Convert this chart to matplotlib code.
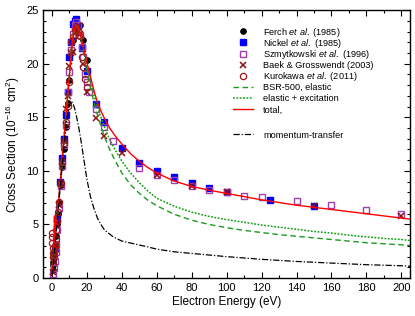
import matplotlib
matplotlib.use("Agg")
import matplotlib.pyplot as plt
from matplotlib.ticker import MultipleLocator

plt.rcParams['font.family'] = ['Liberation Sans', 'DejaVu Sans']
plt.rcParams['mathtext.fontset'] = 'custom'
plt.rcParams['mathtext.rm'] = 'Liberation Sans'
plt.rcParams['mathtext.it'] = 'Liberation Sans:italic'

# ---------------- data ----------------
ferch_E = [0.3, 0.5, 0.7, 0.9, 1.2, 1.5, 2.0, 2.5, 3.0, 3.5, 4.0, 5.0, 6.0, 7.0, 8.0, 9.0, 10.0, 12.0, 14.0, 16.0, 18.0, 20.0]
ferch_Q = [0.8, 1.2, 1.5, 1.9, 2.2, 2.6, 3.0, 3.9, 5.0, 6.0, 7.0, 8.7, 10.4, 12.0, 14.1, 16.3, 18.5, 22.2, 23.4, 23.6, 22.2, 20.3]

nickel_E = [1.5, 3, 4.5, 6, 7, 8, 9, 10, 11, 12, 13, 14, 15, 17, 20, 25, 30, 40, 50, 60, 70, 80, 90, 100, 125, 150]
nickel_Q = [2.8, 5.5, 9.0, 11.2, 13.0, 15.2, 17.4, 20.6, 22.0, 23.7, 24.0, 24.2, 23.5, 21.5, 19.3, 16.2, 14.6, 12.1, 10.7, 10.0, 9.4, 8.9, 8.45, 8.05, 7.28, 6.7]

szmyt_E = [0.6, 1.0, 1.5, 2.0, 2.5, 3.0, 4.0, 5.0, 6.0, 7.0, 8.0, 9.0, 10.0, 11.0, 12.0, 13.0, 14.0, 15.0, 16.0, 17.0, 18.0, 19.0, 20.0, 21.0, 25.0, 30.0, 35.0, 50, 60, 70, 80, 90, 100, 110, 120, 140, 160, 180, 200]
szmyt_Q = [0.4, 0.9, 1.6, 2.4, 3.2, 4.5, 6.5, 8.6, 10.5, 12.4, 14.3, 17.4, 19.2, 21.3, 22.8, 23.6, 23.9, 23.6, 22.7, 21.6, 20.6, 19.0, 18.3, 17.4, 15.8, 14.1, 12.8, 10.3, 9.6, 9.15, 8.6, 8.2, 8.0, 7.7, 7.55, 7.18, 6.85, 6.35, 6.0]

baek_E = [0.5, 1, 1.5, 2, 3, 4, 5, 6, 7, 8, 9, 10, 11, 12, 13, 14, 15, 16, 18, 20, 25, 30, 40, 60, 80, 100, 150, 200]
baek_Q = [0.6, 1.5, 2.2, 3.0, 5.0, 6.8, 8.8, 10.8, 12.8, 15.8, 17.0, 19.8, 21.0, 21.1, 23.0, 23.3, 23.5, 22.8, 20.0, 17.4, 14.9, 13.3, 11.7, 9.65, 8.6, 8.05, 6.7, 5.8]

kuro_E = [0.05, 0.1, 0.2, 0.3, 0.5, 0.8, 1.2, 1.6, 2.0, 2.5, 3.0, 3.5, 4.0, 5.0, 6.0, 7.0, 8.0, 9.0, 10.0, 11.0, 12.0, 13.0, 14.0, 15.0, 16.0, 17.0, 18.0, 19.0, 20.0]
kuro_Q = [4.2, 3.8, 3.3, 2.8, 2.3, 2.0, 2.4, 3.0, 3.6, 4.5, 5.3, 6.2, 7.1, 8.9, 10.8, 12.6, 14.6, 16.1, 18.3, 22.0, 22.5, 23.1, 23.2, 23.0, 22.6, 20.6, 19.7, 18.6, 17.8]

theo_E = [0, 0.5, 1, 1.3, 1.5, 1.7, 2, 3, 4, 5, 6, 7, 8, 9, 10, 11, 12, 13, 14, 15, 16, 17, 18, 20, 22, 24, 26, 28, 30, 33, 36, 40, 45, 50, 55, 60, 70, 80, 90, 100, 110, 120, 130, 140, 150, 160, 170, 180, 190, 200, 205]
total_Q = [0.2, 1.2, 2.2, 2.8, 5.8, 3.2, 3.9, 5.8, 7.6, 9.5, 11.4, 13.3, 15.2, 17.1, 19.0, 20.9, 22.5, 23.4, 23.6, 23.4, 22.9, 22.2, 21.5, 20.1, 18.8, 17.5, 16.4, 15.6, 14.9, 14.0, 13.3, 12.5, 11.6, 10.9, 10.3, 9.8, 9.05, 8.55, 8.2, 7.9, 7.6, 7.3, 7.05, 6.8, 6.6, 6.4, 6.2, 6.0, 5.8, 5.6, 5.5]
elastic_Q = [0.2, 1.2, 2.2, 2.8, 5.8, 3.2, 3.9, 5.8, 7.6, 9.5, 11.4, 13.3, 15.2, 17.1, 19.0, 20.9, 22.5, 23.4, 23.6, 23.3, 22.8, 22.0, 21.1, 19.4, 17.8, 16.4, 15.2, 14.2, 13.2, 12.0, 11.0, 9.8, 8.7, 7.9, 7.25, 6.75, 5.95, 5.4, 5.0, 4.7, 4.45, 4.25, 4.05, 3.9, 3.75, 3.6, 3.45, 3.3, 3.2, 3.1, 3.05]
elexc_Q = [0.2, 1.2, 2.2, 2.8, 5.8, 3.2, 3.9, 5.8, 7.6, 9.5, 11.4, 13.3, 15.2, 17.1, 19.0, 20.9, 22.5, 23.4, 23.6, 23.35, 22.85, 22.1, 21.3, 19.8, 18.4, 17.1, 16.0, 15.0, 14.1, 12.9, 12.0, 10.9, 9.8, 8.9, 8.1, 7.45, 6.7, 6.15, 5.75, 5.45, 5.2, 4.95, 4.75, 4.55, 4.35, 4.2, 4.0, 3.85, 3.7, 3.6, 3.5]

mt_E = [0, 2, 4, 6, 8, 9, 10, 11, 12, 13, 14, 15, 16, 17, 18, 20, 22, 24, 26, 28, 30, 35, 40, 47, 55, 60, 70, 80, 90, 100, 120, 140, 160, 180, 200, 205]
mt_Q = [0.2, 3.5, 7.2, 10.8, 14.2, 15.4, 16.2, 16.5, 16.3, 15.8, 15.1, 14.3, 13.4, 12.4, 11.3, 9.2, 7.6, 6.5, 5.6, 5.0, 4.5, 3.85, 3.45, 3.2, 2.9, 2.7, 2.45, 2.3, 2.15, 2.0, 1.75, 1.55, 1.4, 1.25, 1.15, 1.1]

# ---------------- plot ----------------
fig = plt.figure(figsize=(4.15, 3.16), dpi=100)
ax = fig.add_axes([0.1043, 0.120, 0.8837, 0.848])

ms = 3.8
h1, = ax.plot(ferch_E, ferch_Q, 'o', color='black', ms=ms, mec='black', lw=0, label='Ferch $\\mathit{et\\ al.}$ (1985)')
h2, = ax.plot(nickel_E, nickel_Q, 's', color='#0000FF', ms=ms, mec='#0000FF', lw=0, label='Nickel $\\mathit{et\\ al.}$ (1985)')
h3, = ax.plot(szmyt_E, szmyt_Q, 's', mfc='none', mec='#A040B0', ms=ms + 0.5, mew=1.0, lw=0, label='Szmytkowski $\\mathit{et\\ al.}$ (1996)')
h4, = ax.plot(baek_E, baek_Q, 'x', color='#8B1010', ms=ms + 0.5, mew=1.1, lw=0, label='Baek & Grosswendt (2003)')
h5, = ax.plot(kuro_E, kuro_Q, 'o', mfc='none', mec='#A01818', ms=ms + 0.7, mew=0.9, lw=0, label='Kurokawa $\\mathit{et\\ al.}$ (2011)')

h6, = ax.plot(theo_E, elastic_Q, '--', color='#1A9A1A', lw=1.0, dashes=(4, 2.5), label='BSR-500, elastic')
h7, = ax.plot(theo_E, elexc_Q, ':', color='#10A010', lw=1.1, dashes=(1.2, 1.0), label='elastic + excitation')
h8, = ax.plot(theo_E, total_Q, '-', color='#FF0000', lw=1.0, label='total,')
h9, = ax.plot(mt_E, mt_Q, '-.', color='black', lw=0.9, dashes=(5, 1.5, 1, 1.5), label='momentum-transfer')

ax.set_xlim(-5, 205)
ax.set_ylim(0, 25)
ax.xaxis.set_major_locator(MultipleLocator(20))
ax.xaxis.set_minor_locator(MultipleLocator(10))
ax.yaxis.set_major_locator(MultipleLocator(5))
ax.yaxis.set_minor_locator(MultipleLocator(1))
ax.tick_params(which='both', direction='in', top=True, right=True, labelsize=8)
ax.tick_params(which='major', length=4, width=0.8)
ax.tick_params(which='minor', length=2, width=0.8)
for s in ax.spines.values():
    s.set_linewidth(1.0)

ax.set_xlabel('Electron Energy (eV)', fontsize=8.5, labelpad=2)
ax.set_ylabel('Cross Section (10$^{-16}$ cm$^2$)', fontsize=8.5, labelpad=3)

# legend: one single-entry legend per row for uniform row spacing
legkw = dict(frameon=False, fontsize=6.6, handlelength=2.2, handletextpad=1.1,
             borderpad=0, borderaxespad=0, loc='center left')
rows = [h1, h2, h3, h4, h5, h6, h7, h8]
row_top = 0.918
row_step = 0.0415
for i, h in enumerate(rows):
    lg = ax.legend(handles=[h], bbox_to_anchor=(0.517, row_top - i * row_step), **legkw)
    ax.add_artist(lg)
ax.legend(handles=[h9], bbox_to_anchor=(0.517, 0.5336), **legkw)

fig.savefig('out.png', dpi=100)
